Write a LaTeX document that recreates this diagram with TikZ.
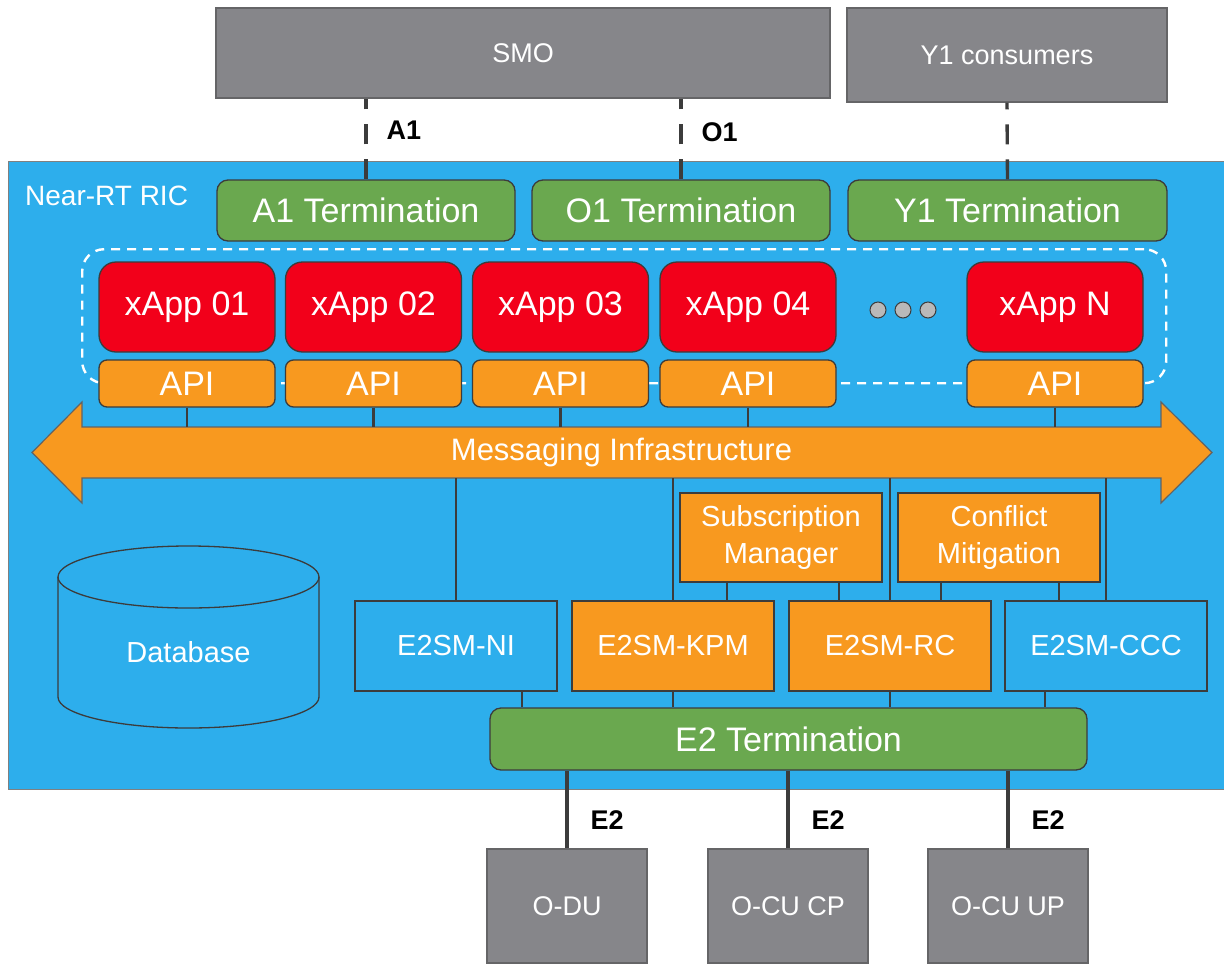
\documentclass[tikz,border=0pt]{standalone}
\usepackage{fontspec}
\setmainfont{Liberation Sans}
\usetikzlibrary{arrows.meta,positioning,calc}
\definecolor{ricBlue}{HTML}{2DAEEC}
\definecolor{termGreen}{HTML}{6AA84F}
\definecolor{xappRed}{HTML}{F2001A}
\definecolor{apiOrange}{HTML}{F8991F}
\definecolor{nodeGray}{HTML}{86868A}
\definecolor{wireGray}{HTML}{3C3C3C}

\begin{document}
\begin{tikzpicture}[
    x=1pt, y=-1pt,
    every node/.style={inner sep=0pt, text=white},
    ext/.style={rectangle, fill=nodeGray, draw=nodeGray!75!black, line width=1.2pt,
      font=\fontsize{27}{32}\selectfont},
    term/.style={rectangle, rounded corners=11pt, fill=termGreen, draw=wireGray,
      line width=1.3pt, font=\fontsize{34}{40}\selectfont},
    xapp/.style={rectangle, rounded corners=17pt, fill=xappRed, draw=wireGray,
      line width=1.3pt, minimum width=176pt, minimum height=90pt,
      font=\fontsize{34}{40}\selectfont},
    api/.style={rectangle, rounded corners=8pt, fill=apiOrange, draw=wireGray,
      line width=1.3pt, minimum width=176pt, minimum height=47pt,
      font=\fontsize{34}{40}\selectfont},
    e2sm/.style={rectangle, draw=wireGray, line width=1.3pt, minimum width=202pt,
      minimum height=90pt, align=center, font=\fontsize{29}{37}\selectfont},
    wire/.style={draw=wireGray, line width=2.8pt},
    iface/.style={draw=wireGray, line width=3.4pt, dash pattern=on 20pt off 15pt},
    tag/.style={text=black, font=\bfseries\fontsize{27}{30}\selectfont},
    dbline/.style={draw=wireGray, line width=1.3pt}
  ]
  \useasboundingbox (0,0) rectangle (1224,967);

  %% Near-RT RIC frame
  \node[draw=gray, fill=ricBlue, line width=1pt, anchor=north west,
    minimum width=1216pt, minimum height=628pt] (ric) at (8,161) {};
  \node[anchor=west, font=\fontsize{28}{32}\selectfont] (ricname) at (25,196) {Near-RT RIC};

  %% Northbound side
  \node[ext, minimum width=614pt, minimum height=90pt] (smo) at (523,53) {SMO};
  \node[ext, minimum width=320pt, minimum height=94pt] (y1c) at (1007,55) {Y1 consumers};
  \node[term, minimum width=298pt, minimum height=61pt] (a1t) at (366,210.5) {A1 Termination};
  \node[term, minimum width=298pt, minimum height=61pt] (o1t) at (681,210.5) {O1 Termination};
  \node[term, minimum width=319pt, minimum height=61pt] (y1t) at (1007.5,210.5) {Y1 Termination};

  \draw[iface] (a1t.north) -- (a1t.north |- smo.south)
    node[tag, pos=0.61, anchor=west, xshift=19pt] {A1};
  \draw[iface] (o1t.north) -- (o1t.north |- smo.south)
    node[tag, pos=0.59, anchor=west, xshift=19pt] {O1};
  \draw[iface] (y1t.north) -- (y1c.south);

  %% xApp pool
  \node[draw=white, line width=2.4pt, dash pattern=on 9pt off 7pt, rounded corners=22pt,
    anchor=north west, minimum width=1084pt, minimum height=134pt] (pool) at (81,248) {};
  \foreach \id/\cx/\name in {x1/187/xApp 01, x2/373.5/xApp 02, x3/560.5/xApp 03,
      x4/748/xApp 04, xn/1055/xApp N}{
    \node[xapp] (\id) at (\cx,307) {\name};
    \node[api] (api\id) at (\cx,383.5) {API};
  }
  \foreach \dx in {878,903,928}
    \draw[fill=gray!55, draw=wireGray, line width=1pt] (\dx,310) circle (8pt);

  %% messaging bus
  \draw[fill=apiOrange, draw=wireGray!80, line width=1.2pt]
    (32,452.5) -- (82,402) -- (82,427) -- (1161,427) -- (1161,402) -- (1212,452.5)
    -- (1161,503) -- (1161,478) -- (82,478) -- (82,503) -- cycle;
  \node[minimum width=1079pt, minimum height=51pt, font=\fontsize{31}{36}\selectfont]
    (bus) at (621.5,452.5) {Messaging Infrastructure};
  \foreach \id in {x1,x2,x3,x4,xn}
    \draw[wire] (api\id.south) -- (api\id.south |- bus.north);

  %% database
  \draw[dbline] (58,577) -- (58,697)
    arc[start angle=180, end angle=360, x radius=130.5pt, y radius=31pt] -- (319,577);
  \draw[dbline] (188.5,577) ellipse [x radius=130.5pt, y radius=31pt];
  \node[font=\fontsize{29}{34}\selectfont] (db) at (188.5,652) {Database};

  %% platform functions and service models
  \node[e2sm, fill=apiOrange, minimum height=89pt] (subm) at (781,537.5) {Subscription\\Manager};
  \node[e2sm, fill=apiOrange, minimum height=89pt] (confm) at (999,537.5) {Conflict\\Mitigation};
  \node[e2sm, fill=ricBlue] (ni) at (456,646) {E2SM-NI};
  \node[e2sm, fill=apiOrange] (kpm) at (673,646) {E2SM-KPM};
  \node[e2sm, fill=apiOrange] (rc) at (890,646) {E2SM-RC};
  \node[e2sm, fill=ricBlue] (ccc) at (1106,646) {E2SM-CCC};

  \foreach \sm in {ni,kpm,rc,ccc}
    \draw[wire] (\sm.north) -- (\sm.north |- bus.south);
  \draw[wire] ([xshift=-54pt]subm.south) -- ([xshift=-54pt]subm.south |- kpm.north);
  \draw[wire] ([xshift=58pt]subm.south) -- ([xshift=58pt]subm.south |- rc.north);
  \draw[wire] ([xshift=-58pt]confm.south) -- ([xshift=-58pt]confm.south |- rc.north);
  \draw[wire] ([xshift=60pt]confm.south) -- ([xshift=60pt]confm.south |- ccc.north);

  %% E2 termination and nodes below
  \node[term, minimum width=597pt, minimum height=62pt] (e2t) at (788.5,739) {E2 Termination};
  \draw[wire] ([xshift=66pt]ni.south) -- ([xshift=66pt]ni.south |- e2t.north);
  \draw[wire] (kpm.south) -- (kpm.south |- e2t.north);
  \draw[wire] (rc.south) -- (rc.south |- e2t.north);
  \draw[wire] ([xshift=-61pt]ccc.south) -- ([xshift=-61pt]ccc.south |- e2t.north);

  \foreach \id/\cx/\name in {odu/567/O-DU, cucp/788/O-CU CP, cuup/1008/O-CU UP}{
    \node[ext, minimum width=160pt, minimum height=114pt] (\id) at (\cx,906) {\name};
    \draw[wire, line width=3.4pt] (\id.north) -- (\id.north |- e2t.south)
      node[tag, pos=0.37, anchor=west, xshift=22pt] {E2};
  }
\end{tikzpicture}
\end{document}
